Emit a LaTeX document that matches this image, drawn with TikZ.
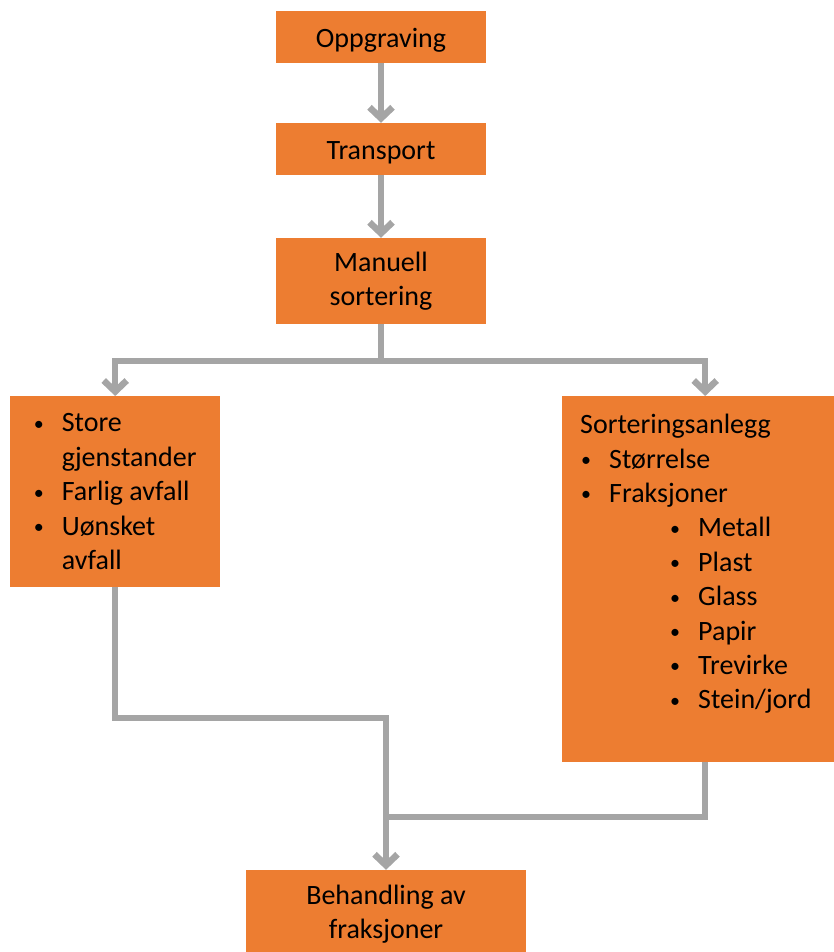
\documentclass[tikz,border=0pt]{standalone}
\usepackage{fontspec}
\setmainfont{Carlito}
\usetikzlibrary{arrows.meta}
\definecolor{oransje}{HTML}{ED7D31}
\definecolor{graa}{HTML}{A5A5A5}
\newcommand{\pkt}[1]{\makebox[28pt][l]{\raisebox{1.5pt}{\fontsize{20}{20}\selectfont\textbullet}}#1}

\begin{document}
\begin{tikzpicture}[x=1pt,y=-1pt,
	boks/.style={fill=oransje,minimum width=210,inner sep=0pt,
		font=\fontsize{28}{34.4}\selectfont},
	enlinje/.style={boks,minimum height=52,text height=25pt,text depth=4pt},
	liste/.style={align=left,inner sep=0pt,
		font=\fontsize{28}{34.4}\selectfont},
	flyt/.style={draw=graa,line width=6.5pt},
	pil/.style={flyt,-{Straight Barb[length=11pt,width=23pt]}}]
	\useasboundingbox (0,0) rectangle (833,952);
	% boksene
	\node[enlinje] (oppgraving) at (381,37) {Oppgraving};
	\node[enlinje] (transport) at (381,149) {Transport};
	\node[boks,minimum height=86,align=center] (manuell) at (381,281) {Manuell\\sortering};
	\node[boks,anchor=north west,minimum height=191,align=left]
		(utsortert) at (10,396) {\pkt{Store}\\\hspace*{28pt}gjenstander\\\pkt{Farlig avfall}\\\pkt{Uønsket}\\\hspace*{28pt}avfall};
	\node[boks,anchor=north west,minimum width=286,minimum height=366] (anlegg) at (562,396) {};
	\node[liste,anchor=north west] (anleggtekst) at ([shift={(18,18)}]anlegg.north west)
		{Sorteringsanlegg\\
		\hspace*{1pt}\pkt{Størrelse}\\
		\hspace*{1pt}\pkt{Fraksjoner}\\
		\hspace*{90pt}\pkt{Metall}\\
		\hspace*{90pt}\pkt{Plast}\\
		\hspace*{90pt}\pkt{Glass}\\
		\hspace*{90pt}\pkt{Papir}\\
		\hspace*{90pt}\pkt{Trevirke}\\
		\hspace*{90pt}\pkt{Stein/jord}};
	\node[boks,minimum width=280,minimum height=88,align=center] (behandling) at (386,914) {Behandling av\\fraksjoner};
	% piler
	\coordinate (deling) at (381,361);
	\coordinate (samle1) at (386,718);
	\coordinate (samle2) at (386,817);
	\draw[pil] (oppgraving) -- (transport);
	\draw[pil] (transport) -- (manuell);
	\draw[flyt] (manuell.south) -- (deling);
	\draw[pil] (deling) -| (utsortert.north);
	\draw[pil] (deling) -| (anlegg.north);
	\draw[flyt] (anlegg.south) |- (samle2);
	\draw[pil] (utsortert.south) |- (samle1) -- (behandling.north);
\end{tikzpicture}
\end{document}
